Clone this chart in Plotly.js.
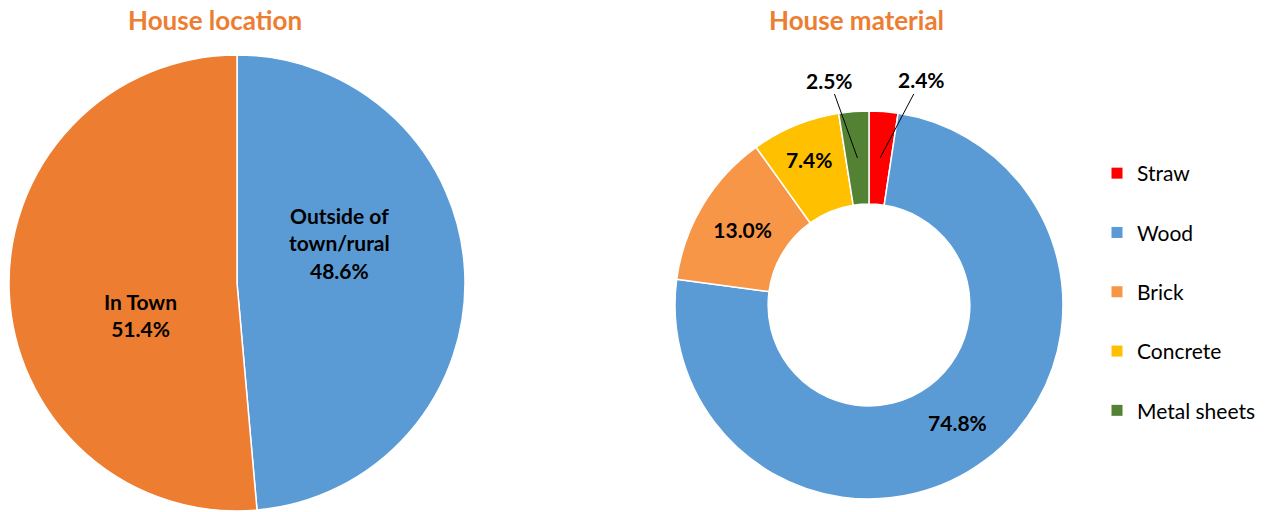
<!DOCTYPE html>
<html><head><meta charset="utf-8">
<script src="https://cdn.plot.ly/plotly-3.0.1.min.js"></script>
<style>html,body{margin:0;padding:0;background:#fff}#chart{width:1277px;height:512px}</style>
</head><body><div id="chart"></div>
<script>
// ---- data ----
const locationLabels = ['Outside of<br>town/rural', 'In Town'];
const locationValues = [48.6, 51.4];
const locationColors = ['#5B9BD5', '#ED7D31'];

const materialLabels = ['Straw', 'Wood', 'Brick', 'Concrete', 'Metal sheets'];
const materialValues = [2.4, 74.8, 13.0, 7.4, 2.5];
const materialColors = ['#FF0000', '#5B9BD5', '#F79646', '#FFC000', '#548235'];

const titles = ['House location', 'House material'];

// ---- layout constants ----
const W = 1277, H = 512;
const FONT = 'Lato, "Open Sans", sans-serif';
const leftDom = {x: [9 / W, 465 / W], y: [1 - 511 / H, 1 - 55 / H]};
const rightDom = {x: [675 / W, 1063 / W], y: [1 - 499 / H, 1 - 111 / H]};
const hole = 0.52;
// label offsets for the left pie, as fractions of its radius (x right, y down)
const leftLabelOffsets = [[0.45, -0.175], [-0.425, 0.14]];

const fmt = v => v.toFixed(1) + '%';
const smallThreshold = 3;

const traces = [
  {
    type: 'pie', labels: locationLabels, values: locationValues,
    marker: {colors: locationColors, line: {color: '#fff', width: 1.5}},
    sort: false, direction: 'clockwise', rotation: 0,
    domain: leftDom, textposition: 'none',
    showlegend: false, hoverinfo: 'label+value'
  },
  {
    type: 'pie', labels: materialLabels, values: materialValues,
    marker: {colors: materialColors, line: {color: '#fff', width: 1.5}},
    sort: false, direction: 'clockwise', rotation: 0, hole: hole,
    domain: rightDom,
    texttemplate: '%{value:.1f}%',
    textposition: materialValues.map(v => v < smallThreshold ? 'none' : 'inside'),
    insidetextorientation: 'horizontal',
    textfont: {family: FONT, size: 21, color: '#000', weight: 'bold'},
    showlegend: false, hoverinfo: 'label+value'
  }
];

// legend entries (one group each for spacing)
materialLabels.forEach((lab, i) => {
  traces.push({
    type: 'scatter', x: [null], y: [null], mode: 'markers', name: lab,
    marker: {symbol: 'square', size: 11, color: materialColors[i]},
    legendgroup: 'g' + i, showlegend: true, hoverinfo: 'skip'
  });
});

const annotations = [];

// left pie labels
const lcx = (leftDom.x[0] + leftDom.x[1]) / 2 * W;
const lcy = (1 - (leftDom.y[0] + leftDom.y[1]) / 2) * H;
const lR = (leftDom.x[1] - leftDom.x[0]) * W / 2;
locationLabels.forEach((lab, i) => {
  const o = leftLabelOffsets[i];
  annotations.push({
    xref: 'paper', yref: 'paper', x: (lcx + o[0] * lR) / W, y: 1 - (lcy + o[1] * lR) / H,
    xanchor: 'center', yanchor: 'middle', showarrow: false,
    text: '<b>' + lab + '<br>' + fmt(locationValues[i]) + '</b>',
    font: {family: FONT, size: 21, color: '#000'}
  });
});

// leader-line labels for small slices of the donut
const total = materialValues.reduce((a, b) => a + b, 0);
const cx = (rightDom.x[0] + rightDom.x[1]) / 2 * W;
const cy = (1 - (rightDom.y[0] + rightDom.y[1]) / 2) * H;
const R = (rightDom.x[1] - rightDom.x[0]) * W / 2;
const rMid = R * (1 + hole) / 2;
let cum = 0;
materialValues.forEach((v, i) => {
  const mid = (cum + v / 2) / total * 2 * Math.PI;
  cum += v;
  if (v >= smallThreshold) return;
  const px = cx + rMid * Math.sin(mid);
  const py = cy - rMid * Math.cos(mid);
  const right = Math.sin(mid) > 0;
  annotations.push({
    xref: 'paper', yref: 'paper', x: px / W, y: 1 - py / H,
    text: '<b>' + fmt(v) + '</b>', showarrow: true, arrowhead: 0, arrowwidth: 1,
    arrowcolor: '#000', ax: right ? 41 : -28, ay: -78,
    font: {family: FONT, size: 21, color: '#000'}
  });
});

[[215, 20], [856, 20]].forEach((p, i) => {
  annotations.push({
    xref: 'paper', yref: 'paper', x: p[0] / W, y: 1 - p[1] / H, showarrow: false,
    xanchor: 'center', yanchor: 'middle',
    text: '<b>' + titles[i] + '</b>',
    font: {family: FONT, size: 26, color: '#ED7D31'}
  });
});

const layout = {
  width: W, height: H, margin: {l: 0, r: 0, t: 0, b: 0},
  paper_bgcolor: '#fff', plot_bgcolor: '#fff',
  xaxis: {visible: false}, yaxis: {visible: false},
  showlegend: true,
  legend: {x: 1097 / W, y: 1 - 292 / H, xanchor: 'left', yanchor: 'middle',
    font: {family: FONT, size: 21, color: '#000'}, tracegroupgap: 29,
    itemclick: false, bgcolor: 'rgba(0,0,0,0)'},
  annotations: annotations
};

Plotly.newPlot('chart', traces, layout, {displayModeBar: false, staticPlot: true});
</script>
</body></html>
